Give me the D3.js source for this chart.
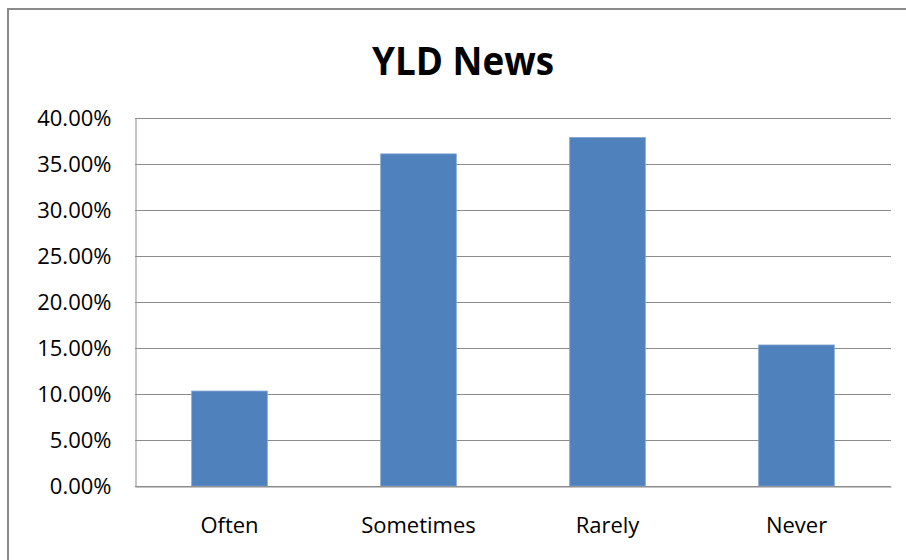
<!DOCTYPE html>
<html>
<head>
<meta charset="utf-8">
<script src="https://cdn.jsdelivr.net/npm/d3@7"></script>
<style>
  html, body { margin: 0; padding: 0; background: #fff; }
  svg { display: block; }
  text { font-family: "Open Sans", "Liberation Sans", sans-serif; fill: #000; }
</style>
</head>
<body>
<svg id="chart" width="906" height="560"></svg>
<script>
const title = "YLD News";
const categories = ["Often", "Sometimes", "Rarely", "Never"];
const values = [0.1032, 0.361, 0.3788, 0.1533];
const yTicks = [0, 0.05, 0.10, 0.15, 0.20, 0.25, 0.30, 0.35, 0.40];

const svg = d3.select("#chart");
const plot = { left: 135, right: 891, top: 118, bottom: 486 };

// outer chart border
svg.append("rect")
  .attr("x", 8).attr("y", 9)
  .attr("width", 940).attr("height", 600)
  .attr("fill", "#fff")
  .attr("stroke", "#8a8a8a").attr("stroke-width", 2);

const x = d3.scaleBand()
  .domain(categories)
  .range([plot.left, plot.right])
  .paddingInner(0.6)
  .paddingOuter(0.3);

const y = d3.scaleLinear()
  .domain([0, 0.40])
  .range([plot.bottom, plot.top]);

// gridlines
svg.append("g")
  .selectAll("line")
  .data(yTicks)
  .join("line")
  .attr("x1", plot.left).attr("x2", plot.right)
  .attr("y1", d => Math.round(y(d)) + 0.5)
  .attr("y2", d => Math.round(y(d)) + 0.5)
  .attr("stroke", "#8c8c8c").attr("stroke-width", 1);

// y axis
const yAxis = d3.axisLeft(y)
  .tickValues(yTicks)
  .tickFormat(d => (d * 100).toFixed(2) + "%")
  .tickSize(0)
  .tickPadding(24);
const ya = svg.append("g")
  .attr("transform", `translate(${plot.left + 0.5},0)`)
  .call(yAxis);
ya.select(".domain").attr("stroke", "#8c8c8c");
ya.selectAll("text")
  .attr("font-size", 22)
  .attr("font-family", "'Open Sans', sans-serif")
  .attr("fill", "#000");

// bars
svg.append("g")
  .selectAll("rect")
  .data(categories)
  .join("rect")
  .attr("x", d => x(d))
  .attr("width", x.bandwidth())
  .attr("y", (d, i) => y(values[i]))
  .attr("height", (d, i) => y(0) - y(values[i]))
  .attr("fill", "#4F81BD")
  .attr("stroke", "#7fa3d0")
  .attr("stroke-width", 0.8);

// x axis
const xAxis = d3.axisBottom(x).tickSize(0).tickPadding(31);
const xa = svg.append("g")
  .attr("transform", `translate(0,${plot.bottom + 0.5})`)
  .call(xAxis);
xa.select(".domain").attr("stroke", "#8c8c8c");
xa.selectAll("text")
  .attr("font-size", 22)
  .attr("font-family", "'Open Sans', sans-serif")
  .attr("fill", "#000");

// title
svg.append("text")
  .attr("x", 463).attr("y", 75)
  .attr("text-anchor", "middle")
  .attr("font-size", 40)
  .attr("font-weight", "bold")
  .attr("textLength", 182)
  .attr("lengthAdjust", "spacingAndGlyphs")
  .text(title);
</script>
</body>
</html>
